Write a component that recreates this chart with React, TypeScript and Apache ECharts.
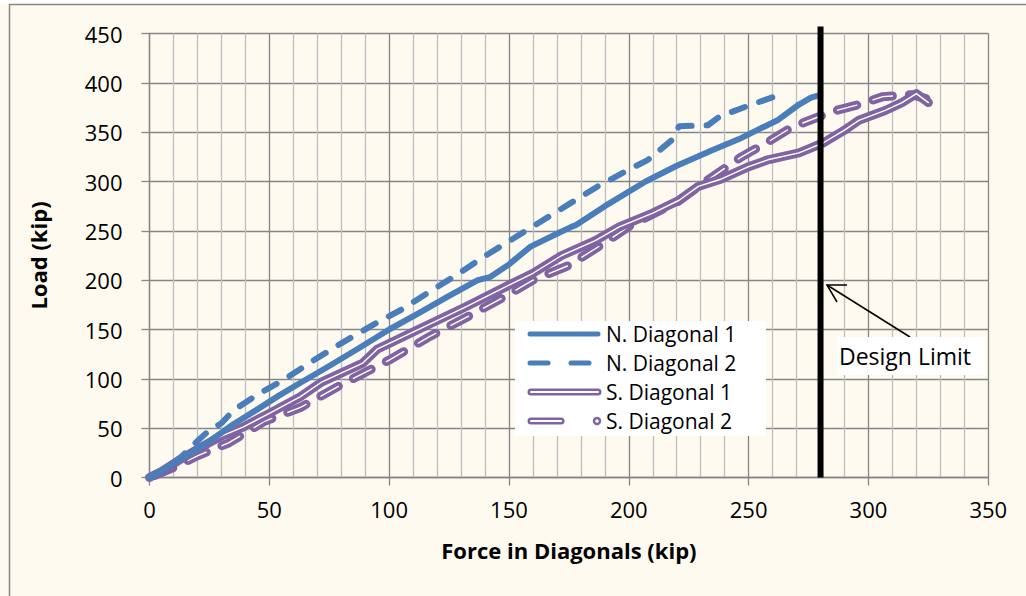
import React, { useEffect, useRef } from "react";
import * as echarts from "echarts";

// Force in diagonals (kip), Load (kip)
const n1Data: number[][] = [
  [0, 0], [5, 7], [12, 17], [24, 35], [35, 54], [45, 69], [54, 83], [63, 96], [75, 113], [88, 132],
  [100, 150], [112, 166], [125, 184], [137, 200], [142, 203], [150, 216], [159, 234], [170, 247],
  [176, 254], [178, 256], [190, 275], [207, 300], [220, 316], [235, 332], [246, 343], [256, 355],
  [262, 362], [271, 378], [276, 385], [279, 387],
];
const n2Data: number[][] = [
  [0, 0], [6, 8], [12, 18], [20, 37], [25, 48], [30, 55], [35, 68], [45, 84], [56, 99], [68, 118],
  [80, 136], [95, 157], [105, 170], [118, 190], [128, 205], [139, 223], [153, 244], [163, 259],
  [171, 271], [187, 295], [200, 312], [208, 322], [218, 342], [221, 356], [233, 357], [238, 366],
  [249, 376], [256, 382], [263, 388],
];
const s1Data: number[][] = [
  [0, 0], [5, 6], [12, 17], [21, 30], [30, 42], [39, 51], [50, 65], [63, 82], [72, 97], [89, 116],
  [95, 130], [113, 151], [132, 173], [150, 195], [160, 207], [172, 225], [186, 240], [196, 254],
  [210, 268], [221, 281], [229, 295], [238, 302], [250, 315], [258, 322], [271, 329], [281, 339],
  [290, 352], [296, 362], [307, 372], [314, 380], [320, 389], [325, 380],
];
const s2Data: number[][] = [
  [2, 2], [10, 10], [20, 22], [33, 35], [48, 57], [63, 71], [80, 94], [100, 119], [117, 143],
  [132, 162], [148, 183], [160, 200], [175, 215], [190, 238], [201, 256], [220, 279], [235, 305],
  [247, 325], [258, 340], [268, 355], [285, 371], [296, 378], [306, 386], [318, 388], [324, 384],
];
const designLimitForce = 280;
const designLimitSpan = [0, 457];
const seriesNames = ["N. Diagonal 1", "N. Diagonal 2", "S. Diagonal 1", "S. Diagonal 2"];
const xAxisTitle = "Force in Diagonals (kip)";
const yAxisTitle = "Load (kip)";
const annotationText = "Design Limit";

const BLUE = "#4A7EBB";
const PURPLE = "#8064A2";
const GRID_MAJOR = "#868686";
const GRID_MINOR = "#BFBFBF";
const BG = "#FEFAF0";
const FONT = "'Open Sans', 'Noto Sans', sans-serif";

export default function App() {
  const ref = useRef<HTMLDivElement>(null);
  useEffect(() => {
    document.body.style.margin = "0";
    const chart = echarts.init(ref.current!, null, { renderer: "svg" });

    const lx = 528;
    const rows = [334, 363, 392, 421];
    const Z = 100;
    const legendEls: any[] = [
      { type: "rect", z: Z, shape: { x: 515, y: 321, width: 251, height: 115 }, style: { fill: "#FFFFFF" } },
      { type: "line", z: Z + 1, shape: { x1: lx + 2, y1: rows[0], x2: lx + 70, y2: rows[0] }, style: { stroke: BLUE, lineWidth: 5, lineCap: "round" } },
      { type: "line", z: Z + 1, shape: { x1: lx + 2, y1: rows[1], x2: lx + 20, y2: rows[1] }, style: { stroke: BLUE, lineWidth: 5, lineCap: "round" } },
      { type: "line", z: Z + 1, shape: { x1: lx + 43, y1: rows[1], x2: lx + 61, y2: rows[1] }, style: { stroke: BLUE, lineWidth: 5, lineCap: "round" } },
      { type: "line", z: Z + 1, shape: { x1: lx + 3, y1: rows[2], x2: lx + 70, y2: rows[2] }, style: { stroke: PURPLE, lineWidth: 7, lineCap: "round" } },
      { type: "line", z: Z + 2, shape: { x1: lx + 3, y1: rows[2], x2: lx + 70, y2: rows[2] }, style: { stroke: "#FFFFFF", lineWidth: 2, lineCap: "round" } },
      { type: "line", z: Z + 1, shape: { x1: lx + 3, y1: rows[3], x2: lx + 33, y2: rows[3] }, style: { stroke: PURPLE, lineWidth: 7, lineCap: "round" } },
      { type: "line", z: Z + 2, shape: { x1: lx + 3, y1: rows[3], x2: lx + 33, y2: rows[3] }, style: { stroke: "#FFFFFF", lineWidth: 2, lineCap: "round" } },
      { type: "circle", z: Z + 1, shape: { cx: lx + 69, cy: rows[3], r: 3 }, style: { fill: "#FFFFFF", stroke: PURPLE, lineWidth: 2.5 } },
      ...seriesNames.map((n, i) => ({
        type: "text",
        z: Z + 3,
        x: 606,
        y: rows[i],
        style: {
          text: n,
          fontSize: 21,
          fontFamily: FONT,
          lineHeight: 24,
          fill: "#000",
          verticalAlign: "middle",
          align: "left",
        },
      })),
    ];

    const annotationEls: any[] = [
      { type: "line", z: Z, shape: { x1: 910, y1: 337, x2: 827, y2: 285 }, style: { stroke: "#000", lineWidth: 1.5 } },
      { type: "polyline", z: Z, shape: { points: [[847, 285], [827, 285], [837, 302]] }, style: { stroke: "#000", lineWidth: 1.5, fill: null } },
      { type: "rect", z: Z + 1, shape: { x: 837, y: 337, width: 148, height: 38 }, style: { fill: "#FFFFFF" } },
      { type: "text", z: Z + 2, x: 839, y: 356, style: { text: annotationText, fontSize: 23, fontFamily: FONT, lineHeight: 28, fill: "#000", verticalAlign: "middle" } },
    ];

    const frame: any[] = [
      { type: "rect", z: -10, shape: { x: 0, y: 0, width: 1026, height: 4 }, style: { fill: "#FFFFFF" } },
      { type: "rect", z: 200, shape: { x: 9.5, y: 4.5, width: 1100, height: 700 }, style: { fill: null, stroke: "#878787", lineWidth: 1.5 } },
    ];

    const axisCommon = {
      type: "value" as const,
      axisLine: { show: true, lineStyle: { color: GRID_MAJOR, width: 1.3 } },
      axisTick: { show: true, length: 8, inside: false, lineStyle: { color: GRID_MAJOR, width: 1.3 } },
      splitLine: { show: true, lineStyle: { color: GRID_MAJOR, width: 1.3 } },
      nameLocation: "middle" as const,
      nameTextStyle: { fontSize: 22, fontWeight: "bold" as const, color: "#000", fontFamily: FONT },
    };

    chart.setOption({
      animation: false,
      backgroundColor: BG,
      grid: { left: 149.5, right: 37.7, top: 33.5, bottom: 118.5 },
      xAxis: {
        ...axisCommon,
        min: 0,
        max: 350,
        interval: 50,
        name: xAxisTitle,
        nameGap: 61,
        axisLabel: { fontSize: 22, color: "#000", margin: 20, fontFamily: FONT },
        minorTick: { show: false, splitNumber: 5 },
        minorSplitLine: { show: true, lineStyle: { color: GRID_MINOR, width: 1.3 } },
      },
      yAxis: {
        ...axisCommon,
        min: 0,
        max: 450,
        interval: 50,
        name: yAxisTitle,
        nameRotate: 90,
        nameGap: 101,
        axisLabel: { fontSize: 22, color: "#000", margin: 27, fontFamily: FONT },
      },
      graphic: [...frame, ...legendEls, ...annotationEls],
      series: [
        {
          name: seriesNames[3] + " outline",
          type: "line",
          data: s2Data,
          showSymbol: false,
          z: 2,
          lineStyle: { color: PURPLE, width: 9, type: [20, 17], cap: "round", join: "round" },
        },
        {
          name: seriesNames[3],
          type: "line",
          data: s2Data,
          showSymbol: false,
          z: 2,
          lineStyle: { color: "#FFFFFF", width: 1.4, type: [20, 17], cap: "round", join: "round" },
        },
        {
          name: seriesNames[2] + " outline",
          type: "line",
          data: s1Data,
          showSymbol: false,
          z: 3,
          lineStyle: { color: PURPLE, width: 9, cap: "round", join: "round" },
        },
        {
          name: seriesNames[2],
          type: "line",
          data: s1Data,
          showSymbol: false,
          z: 3,
          lineStyle: { color: "#FFFFFF", width: 1.4, cap: "round", join: "round" },
        },
        {
          name: seriesNames[1],
          type: "line",
          data: n2Data,
          showSymbol: false,
          z: 4,
          lineStyle: { color: BLUE, width: 6, type: [14, 15], cap: "round", join: "round" },
        },
        {
          name: seriesNames[0],
          type: "line",
          data: n1Data,
          showSymbol: false,
          z: 4,
          lineStyle: { color: BLUE, width: 6, cap: "round", join: "round" },
        },
        {
          name: annotationText,
          type: "line",
          data: designLimitSpan.map((v) => [designLimitForce, v]),
          showSymbol: false,
          clip: false,
          z: 6,
          lineStyle: { color: "#000", width: 6 },
        },
      ],
    });
    return () => chart.dispose();
  }, []);
  return <div ref={ref} style={{ width: 1026, height: 596 }} />;
}
